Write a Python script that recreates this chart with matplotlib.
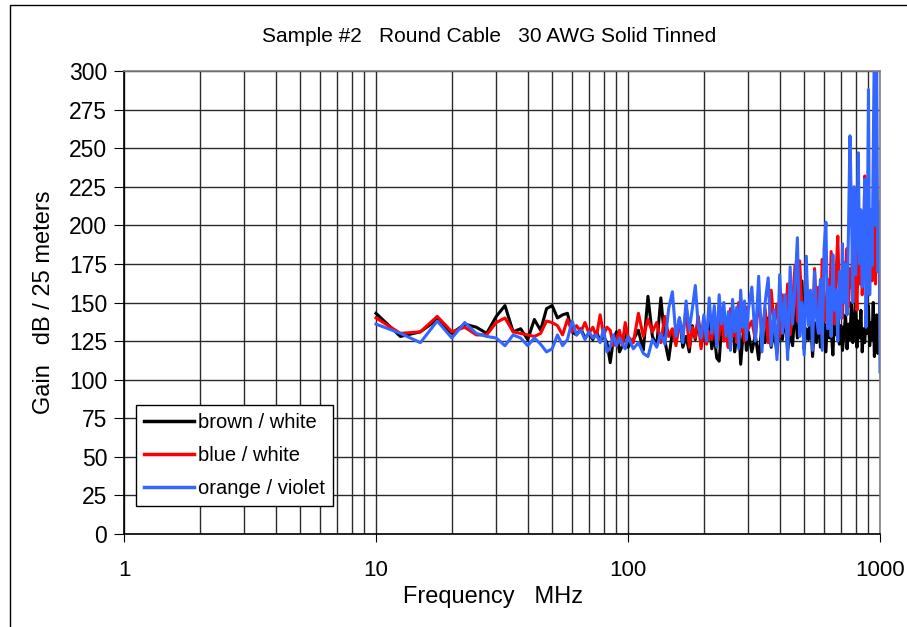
#!/usr/bin/env python3
"""
Gain vs. frequency for Sample #2 (round cable, 30 AWG solid tinned).

Log frequency axis, three wire pairs, Excel-style grid and legend box.
"""

from __future__ import annotations

import matplotlib

matplotlib.use("Agg")
import matplotlib.pyplot as plt
from matplotlib.patches import Rectangle
from matplotlib.ticker import FixedLocator, NullFormatter

# Measurement grid (MHz)
FREQ_MHZ = [
    10, 12.5, 15, 17.5, 20, 22.5, 25, 27.5, 30, 32.5, 35, 37.5, 40, 42.5, 45,
    47.5, 50, 52.5, 55, 57.5, 60, 62.5, 65, 67.5, 70, 72.5, 75, 77.5, 80, 82.5,
    85, 87.5, 90, 92.5, 95, 97.5, 100,
    105, 110, 115, 120, 125, 130, 135, 140, 145, 150, 155, 160, 165, 170, 175,
    180, 185, 190, 195, 200, 205, 210, 215, 220, 225, 230, 235, 240, 245, 250,
    255, 260, 265, 270, 275, 280, 285, 290, 295, 300,
    310, 320, 330, 340, 350, 360, 370, 380, 390, 400, 410, 420, 430, 440, 450,
    460, 470, 480, 490, 500, 510, 520, 530, 540, 550, 560, 570, 580, 590, 600,
    610, 620, 630, 640, 650, 660, 670, 680, 690, 700, 710, 720, 730, 740, 750,
    760, 770, 780, 790, 800, 810, 820, 830, 840, 850, 860, 870, 880, 890, 900,
    910, 920, 930, 940, 950, 960, 970, 980, 990, 1000,
]

# Gain, dB / 25 meters
BROWN_WHITE = [
    143, 128, 131, 139, 130, 136, 134, 130, 141, 148, 131, 133, 126, 139, 132,
    146, 148, 140, 142, 143, 131, 129, 133, 127, 130, 126, 131, 125, 128, 124,
    111, 126, 131, 118, 122, 134, 121,
    126, 132, 119, 154, 128, 122, 153, 125, 113, 131, 124, 140, 121, 128, 118,
    135, 126, 140, 122, 131, 125, 138, 120, 129, 114, 112, 133, 127, 139, 121,
    130, 145, 118, 128, 135, 110, 126, 138, 119, 131,
    118, 129, 113, 135, 124, 140, 121, 132, 117, 138, 126, 143, 119, 131, 122,
    148, 127, 135, 164, 120, 133, 126, 141, 115, 137, 124, 145, 121, 130, 136,
    118, 142, 127, 133, 116, 140, 129, 147, 123, 135, 119, 131, 142, 120, 136,
    126, 150, 124, 132, 156, 121, 138, 127, 145, 118, 133, 124, 141, 130, 148,
    122, 137, 126, 150, 115, 134, 142, 117, 128, 155,
]

BLUE_WHITE = [
    140, 130, 131, 141, 131, 134, 129, 129, 137, 140, 131, 130, 129, 128, 130,
    138, 137, 135, 129, 139, 131, 135, 131, 137, 130, 134, 128, 142, 129, 134,
    132, 122, 126, 132, 122, 137, 128,
    124, 143, 128, 139, 131, 137, 124, 141, 128, 133, 122, 138, 130, 145, 121,
    134, 127, 141, 120, 136, 123, 131, 126, 140, 122, 129, 144, 125, 132, 121,
    146, 128, 136, 124, 150, 131, 139, 125, 147, 133,
    138, 126, 152, 131, 146, 124, 158, 135, 149, 128, 155, 134, 162, 129, 150,
    174, 138, 177, 145, 131, 168, 140, 156, 133, 172, 143, 160, 130, 178, 149,
    138, 165, 142, 183, 150, 136, 170, 193, 154, 168, 140, 176, 152, 185, 147,
    172, 160, 190, 151, 168, 145, 184, 162, 200, 155, 178, 232, 170, 188, 158,
    196, 173, 164, 206, 180, 162, 199, 176, 210, 190,
]

ORANGE_VIOLET = [
    136, 130, 124, 138, 127, 137, 130, 128, 127, 122, 129, 127, 122, 127, 123,
    118, 120, 129, 122, 126, 138, 129, 132, 126, 131, 127, 129, 124, 133, 118,
    121, 129, 122, 127, 123, 120, 128,
    120, 124, 117, 115, 126, 121, 130, 123, 146, 157, 128, 140, 124, 151, 132,
    146, 161, 135, 127, 142, 125, 153, 130, 148, 121, 155, 136, 150, 128, 144,
    119, 152, 131, 147, 120, 158, 134, 151, 126, 145,
    160, 125, 167, 118, 150, 166, 122, 145, 113, 168, 130, 155, 113, 173, 136,
    160, 192, 128, 150, 116, 180, 135, 158, 119, 170, 140, 130, 165, 119, 185,
    202, 133, 160, 128, 181, 145, 158, 125, 170, 140, 188, 150, 175, 142, 198,
    258, 212, 150, 225, 168, 199, 247, 175, 210, 160, 184, 230, 134, 190, 288,
    155, 210, 174, 250, 320, 200, 310, 170, 215, 105,
]

SERIES_LABELS = ["brown / white", "blue / white", "orange / violet"]
SERIES_COLORS = ["#000000", "#FF0000", "#3366FF"]

X_TICKS = [1, 10, 100, 1000]
Y_TICKS = list(range(0, 301, 25))


def create_figure(output_path: str) -> None:
    plt.rcParams["font.family"] = ["Liberation Sans", "DejaVu Sans"]

    fig = plt.figure(figsize=(9.07, 6.27), dpi=100)
    ax = fig.add_axes([124 / 907, 1 - 534 / 627, 756 / 907, 463 / 627])

    # Outer chart-area border (runs off the right/bottom edge)
    fig.patches.append(
        Rectangle((10 / 907, -0.1), 1.2, 1 - 5 / 627 + 0.1,
                  transform=fig.transFigure, fill=False,
                  edgecolor="black", linewidth=1.0)
    )

    for values, label, color in zip(
        [BROWN_WHITE, BLUE_WHITE, ORANGE_VIOLET], SERIES_LABELS, SERIES_COLORS
    ):
        ax.plot(FREQ_MHZ, values, color=color, linewidth=2.2, label=label)

    ax.set_xscale("log")
    ax.set_xlim(1, 1000)
    ax.set_ylim(0, 300)

    ax.xaxis.set_major_locator(FixedLocator(X_TICKS))
    ax.set_xticklabels([str(t) for t in X_TICKS])
    minors = [m * d for d in (1, 10, 100) for m in range(2, 10)]
    ax.xaxis.set_minor_locator(FixedLocator(minors))
    ax.xaxis.set_minor_formatter(NullFormatter())
    ax.set_yticks(Y_TICKS)

    ax.tick_params(axis="x", which="major", direction="out", length=6,
                   pad=13, labelsize=16)
    ax.tick_params(axis="x", which="minor", length=0)
    ax.tick_params(axis="y", direction="out", length=7, pad=5, labelsize=16.5)

    ax.grid(True, which="both", axis="x", color="#2a2a2a", linewidth=1.0)
    ax.grid(True, which="major", axis="y", color="#2a2a2a", linewidth=1.0)
    ax.set_axisbelow(True)

    for side in ("left", "bottom"):
        ax.spines[side].set_color("black")
        ax.spines[side].set_linewidth(1.2)
    for side in ("top", "right"):
        ax.spines[side].set_color("#808080")
        ax.spines[side].set_linewidth(1.2)

    ax.set_xlabel("Frequency   MHz", fontsize=17)
    ax.xaxis.set_label_coords((493 - 124) / 756, (534 - 586) / 463)
    ax.set_ylabel("Gain   dB / 25 meters", fontsize=17, labelpad=10)
    fig.text(489 / 907, 1 - 36 / 627,
             "Sample #2   Round Cable   30 AWG Solid Tinned",
             ha="center", va="center", fontsize=15)

    leg = ax.legend(
        loc="lower left",
        bbox_to_anchor=(12 / 756, 28 / 463),
        borderaxespad=0,
        fontsize=14.5,
        handlelength=2.5,
        handletextpad=0.2,
        labelspacing=0.7,
        fancybox=False,
        framealpha=1,
        edgecolor="black",
    )
    leg.get_frame().set_linewidth(1.0)
    for line in leg.get_lines():
        line.set_linewidth(2.5)

    fig.savefig(output_path, dpi=100)
    print(f"Saved figure to {output_path}")


def main() -> None:
    create_figure("out.png")


if __name__ == "__main__":
    main()
